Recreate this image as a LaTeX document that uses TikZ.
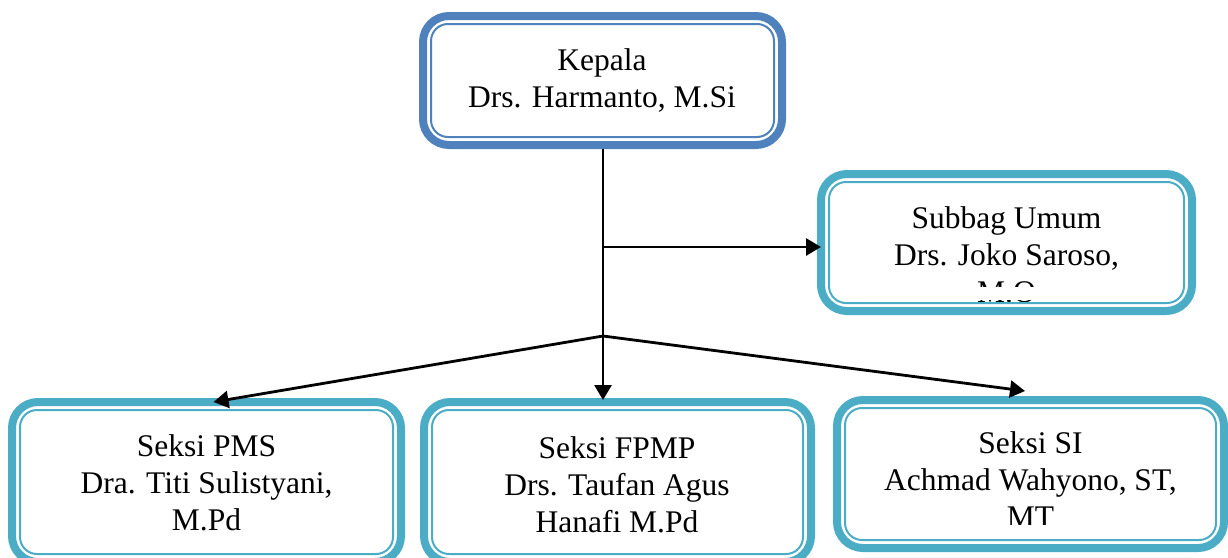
\documentclass[tikz,border=0pt]{standalone}
\usepackage{fontspec}
\setmainfont{Liberation Serif}
\usetikzlibrary{arrows.meta,calc}
\definecolor{kblue}{HTML}{4F81BD}
\definecolor{cyanb}{HTML}{4BACC6}
\begin{document}
\begin{tikzpicture}[x=1pt,y=-1pt,
  outerbox/.style={draw=#1, line width=8pt, rounded corners=26pt, fill=white, inner sep=0pt, outer sep=0pt, shape=rectangle},
  innerline/.style={draw=#1, line width=2pt, rounded corners=17pt},
  txt/.style={align=center, inner sep=0pt, font=\fontsize{31.5pt}{37pt}\selectfont, anchor=base},
  conn/.style={draw=black, line width=2.8pt},
  arr/.style={conn, -{Triangle[length=15pt,width=17pt]}},
  mask/.style={fill=white, draw=none}]
\clip (0,0) rectangle (1228,557);
% boxes
\node[outerbox=kblue, minimum width=359pt, minimum height=129pt] (kep) at (602.5,80.5) {};
\node[outerbox=cyanb, minimum width=371pt, minimum height=137pt] (sub) at (1006.5,242.5) {};
\node[outerbox=cyanb, minimum width=389pt, minimum height=160pt] (pms) at (206.5,482) {};
\node[outerbox=cyanb, minimum width=387pt, minimum height=160pt] (fpmp) at (617.5,482) {};
\node[outerbox=cyanb, minimum width=387pt, minimum height=148pt] (si) at (1030.5,474) {};
% texts (anchored at the baseline of the last line)
\node[txt] (kepT) at (602,107) {Kepala\\Drs. Harmanto, M.Si};
\node[txt] (subT) at (1006.5,302) {Subbag Umum\\Drs. Joko Saroso,\\M.O};
\node[txt] (pmsT) at (206.5,530) {Seksi PMS\\Dra. Titi Sulistyani,\\M.Pd};
\node[txt] (fpmpT) at (617,532) {Seksi FPMP\\Drs. Taufan Agus\\Hanafi M.Pd};
\node[txt] (siT) at (1030.5,527) {Seksi SI\\Achmad Wahyono, ST,\\MT};
% clipped text overflow
\path[mask] (832,287) rectangle (1181,300);
\path[mask] (848,525) rectangle (1213,537);
% inner borders
\draw[innerline=kblue] ($(kep.north west)+(8,8)$) rectangle ($(kep.south east)+(-8,-8)$);
\draw[innerline=cyanb] ($(sub.north west)+(8,8)$) rectangle ($(sub.south east)+(-8,-8)$);
\draw[innerline=cyanb] ($(pms.north west)+(8,8)$) rectangle ($(pms.south east)+(-8,-8)$);
\draw[innerline=cyanb] ($(fpmp.north west)+(8,8)$) rectangle ($(fpmp.south east)+(-8,-8)$);
\draw[innerline=cyanb] ($(si.north west)+(8,8)$) rectangle ($(si.south east)+(-8,-8)$);
% connectors
\coordinate (j1) at (603,247);
\coordinate (j2) at (603,336);
\draw[conn, shorten <=4pt] (kep.south -| j2) -- (j2);
\draw[arr] (j1) -- (j1 -| sub.west);
\draw[arr] (j2) -- ($(pms.north)+(7,0)$);
\draw[arr] (j2) -- ($(fpmp.north -| j2)+(0,-2)$);
\draw[arr] (j2) -- ($(si.north)+(-5.5,-9)$);
\end{tikzpicture}
\end{document}
